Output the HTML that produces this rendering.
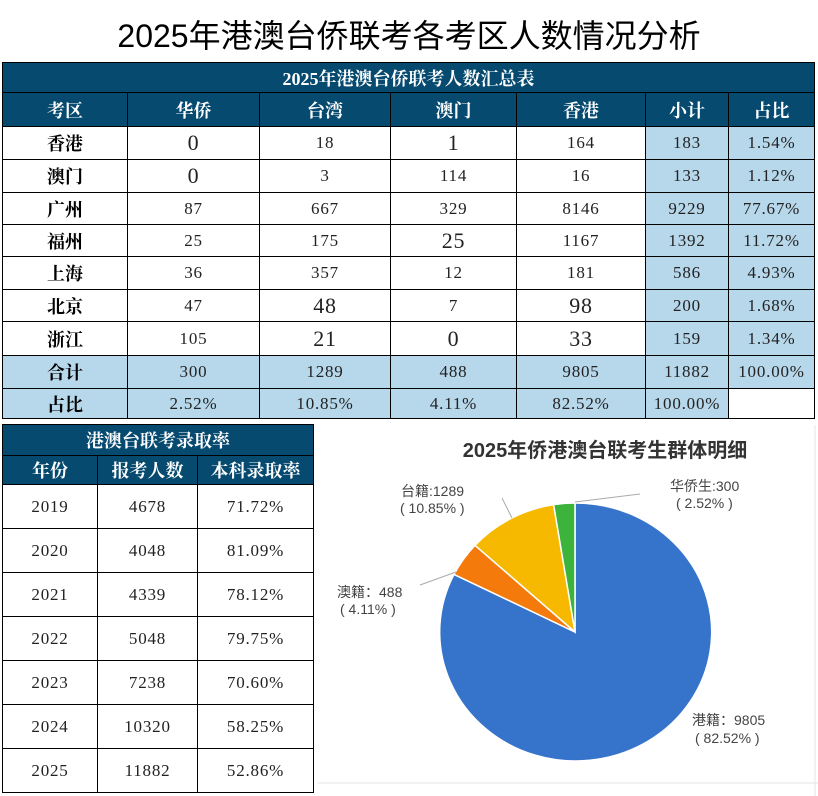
<!DOCTYPE html><html><head><meta charset="utf-8"><style>
body{margin:0;width:818px;height:796px;background:#fff;position:relative;overflow:hidden;font-family:"Liberation Serif","Noto Serif CJK SC",serif}
.t{position:absolute;left:0;top:11px;width:818px;text-align:center;font:32px "Liberation Sans","Noto Sans CJK SC",sans-serif;color:#000}
table{position:absolute;border-collapse:collapse;table-layout:fixed}
td{border:1.5px solid #000;text-align:center;padding:0;font-size:17px;letter-spacing:0.8px;color:#222}
.h td{background:#064a70;color:#fff;font-weight:bold;font-size:18px;letter-spacing:0;border-color:#000}
.hd{background:#064a70;color:#fff;font-weight:bold;font-size:18px;letter-spacing:0}
.b{background:#b7d7ea}
.k{font-weight:bold;font-size:18px;letter-spacing:0;color:#000}
.L{font-size:22px}
</style></head><body>
<div class="t">2025年港澳台侨联考各考区人数情况分析</div>
<table style="left:2px;top:62px;width:812px">
<colgroup><col style="width:125px"><col style="width:132px"><col style="width:131px"><col style="width:126px"><col style="width:129px"><col style="width:83px"><col style="width:86px"></colgroup>
<tr style="height:30px"><td colspan="7" class="hd">2025年港澳台侨联考人数汇总表</td></tr>
<tr class="h" style="height:34px"><td>考区</td><td>华侨</td><td>台湾</td><td>澳门</td><td>香港</td><td>小计</td><td>占比</td></tr>
<tr style="height:33px"><td class="k">香港</td><td class="L">0</td><td>18</td><td class="L">1</td><td>164</td><td class="b">183</td><td class="b">1.54%</td></tr>
<tr style="height:33px"><td class="k">澳门</td><td class="L">0</td><td>3</td><td>114</td><td>16</td><td class="b">133</td><td class="b">1.12%</td></tr>
<tr style="height:32px"><td class="k">广州</td><td>87</td><td>667</td><td>329</td><td>8146</td><td class="b">9229</td><td class="b">77.67%</td></tr>
<tr style="height:32px"><td class="k">福州</td><td>25</td><td>175</td><td class="L">25</td><td>1167</td><td class="b">1392</td><td class="b">11.72%</td></tr>
<tr style="height:33px"><td class="k">上海</td><td>36</td><td>357</td><td>12</td><td>181</td><td class="b">586</td><td class="b">4.93%</td></tr>
<tr style="height:32px"><td class="k">北京</td><td>47</td><td class="L">48</td><td>7</td><td class="L">98</td><td class="b">200</td><td class="b">1.68%</td></tr>
<tr style="height:34px"><td class="k">浙江</td><td>105</td><td class="L">21</td><td class="L">0</td><td class="L">33</td><td class="b">159</td><td class="b">1.34%</td></tr>
<tr style="height:33px" class="b"><td class="k">合计</td><td>300</td><td>1289</td><td>488</td><td>9805</td><td>11882</td><td>100.00%</td></tr>
<tr style="height:30px"><td class="k b">占比</td><td class="b">2.52%</td><td class="b">10.85%</td><td class="b">4.11%</td><td class="b">82.52%</td><td class="b">100.00%</td><td></td></tr>
</table>
<table style="left:2px;top:424px;width:311px">
<colgroup><col style="width:95px"><col style="width:100px"><col style="width:116px"></colgroup>
<tr style="height:31px"><td colspan="3" class="hd">港澳台联考录取率</td></tr>
<tr class="h" style="height:29px"><td>年份</td><td>报考人数</td><td>本科录取率</td></tr>
<tr style="height:44px"><td>2019</td><td>4678</td><td>71.72%</td></tr>
<tr style="height:44px"><td>2020</td><td>4048</td><td>81.09%</td></tr>
<tr style="height:44px"><td>2021</td><td>4339</td><td>78.12%</td></tr>
<tr style="height:44px"><td>2022</td><td>5048</td><td>79.75%</td></tr>
<tr style="height:44px"><td>2023</td><td>7238</td><td>70.60%</td></tr>
<tr style="height:44px"><td>2024</td><td>10320</td><td>58.25%</td></tr>
<tr style="height:44px"><td>2025</td><td>11882</td><td>52.86%</td></tr>
</table>
<svg style="position:absolute;left:0;top:0" width="818" height="796">
<g stroke="#e4e4e4" stroke-width="1"><line x1="318" y1="783" x2="818" y2="783"/><line x1="815" y1="425" x2="815" y2="796"/></g>
<g font-family="Liberation Sans,Noto Sans CJK SC,sans-serif">
<text x="605" y="457" text-anchor="middle" font-size="20" font-weight="bold" fill="#333">2025年侨港澳台联考生群体明细</text>
<g stroke="#fff" stroke-width="1.5">
<path d="M575,632 L575,503 A136,129 0 1 1 454.0,574.4 Z" fill="#3674cc"/>
<path d="M575,632 L454.0,574.4 A136,129 0 0 1 475.0,545.3 Z" fill="#f57a0c"/>
<path d="M575,632 L475.0,545.3 A136,129 0 0 1 553.6,504.6 Z" fill="#f7b900"/>
<path d="M575,632 L553.6,504.6 A136,129 0 0 1 575,503 Z" fill="#3cb43c"/>
</g>
<g stroke="#aaa" fill="none"><polyline points="502,498 512,518"/><polyline points="420,585 456,572"/><polyline points="575,502 640,494"/></g>
<g font-size="14" fill="#444">
<text x="401" y="496">台籍:1289</text><text x="400" y="513">( 10.85% )</text>
<text x="337" y="597">澳籍：488</text><text x="340" y="614">( 4.11% )</text>
<text x="670" y="491">华侨生:300</text><text x="676" y="508">( 2.52% )</text>
<text x="692" y="725">港籍：9805</text><text x="695" y="743">( 82.52% )</text>
</g></g></svg>
</body></html>
